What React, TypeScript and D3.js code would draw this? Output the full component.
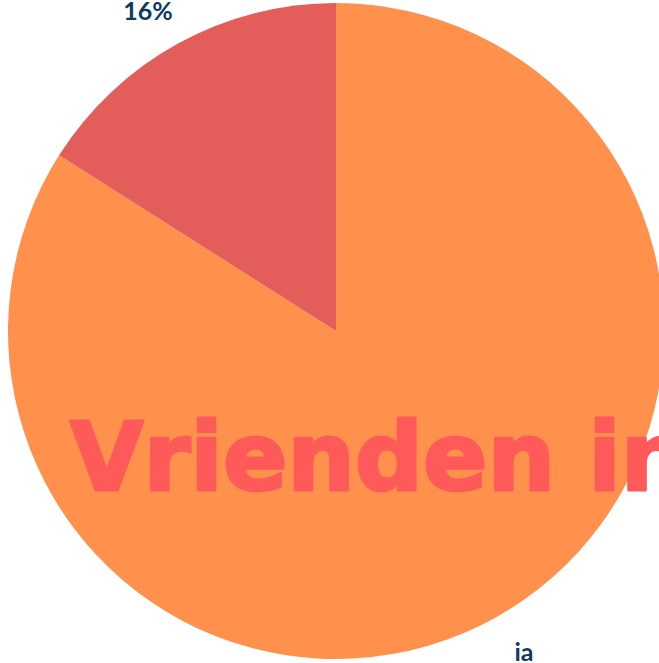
import * as d3 from 'd3';
import React, { useEffect, useRef } from 'react';

const categories = ['Overig', 'Vrienden'];
const shares = [84, 16];
const labels = ['ia', '16%'];
const colors = ['#FF914D', '#E35D5B'];
const title = 'Vrienden in';

const App: React.FC = () => {
  const ref = useRef<SVGSVGElement | null>(null);

  useEffect(() => {
    if (!ref.current) return;
    const svg = d3.select(ref.current);
    svg.selectAll('*').remove();

    const width = 659;
    const height = 663;
    const cx = 336;
    const cy = 331;
    const radius = 328;

    const data = categories.map((c, i) => ({ name: c, value: shares[i], label: labels[i], color: colors[i] }));

    const pie = d3
      .pie<{ name: string; value: number; label: string; color: string }>()
      .value((d) => d.value)
      .sort(null)
      .startAngle(0)
      .endAngle(2 * Math.PI);

    const arcs = pie(data);
    const arc = d3.arc<d3.PieArcDatum<any>>().innerRadius(0).outerRadius(radius);

    const g = svg.append('g').attr('transform', `translate(${cx},${cy})`);

    g.selectAll('path')
      .data(arcs)
      .enter()
      .append('path')
      .attr('d', arc)
      .attr('fill', (d) => d.data.color);

    // titel over de taart heen
    svg
      .append('text')
      .attr('x', 70)
      .attr('y', 490)
      .attr('font-family', '"DejaVu Sans", sans-serif')
      .attr('font-weight', 700)
      .attr('font-size', 95)
      .attr('fill', '#FF5A5A')
      .attr('stroke', '#FF5A5A')
      .attr('stroke-width', 3)
      .attr('stroke-linejoin', 'round')
      .text(title);

    // labels buiten de taart
    const labelArc = d3.arc<d3.PieArcDatum<any>>().innerRadius(radius * 1.12).outerRadius(radius * 1.12);
    g.selectAll('text.lbl')
      .data(arcs)
      .enter()
      .append('text')
      .attr('class', 'lbl')
      .attr('x', (d) => labelArc.centroid(d)[0] + (d.index === 0 ? 11 : -11))
      .attr('y', (d) => labelArc.centroid(d)[1] + (d.index === 0 ? 8 : 11))
      .attr('text-anchor', 'middle')
      .attr('font-family', 'Lato, sans-serif')
      .attr('font-weight', 700)
      .attr('font-size', 25)
      .attr('fill', '#0E3B62')
      .text((d) => d.data.label);

    svg.attr('width', width).attr('height', height);
  }, []);

  return (
    <svg
      ref={ref}
      style={{ position: 'fixed', left: 0, top: 0, background: '#fff' }}
      width={659}
      height={663}
    />
  );
};

export default App;
